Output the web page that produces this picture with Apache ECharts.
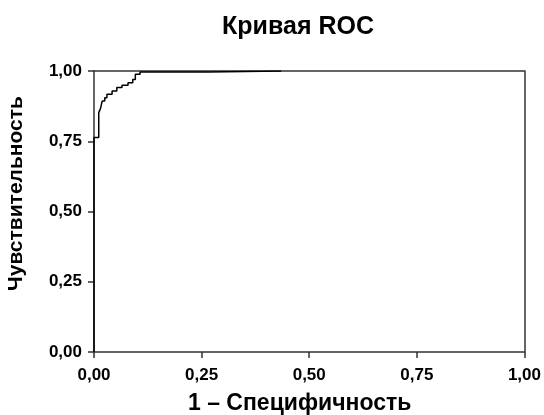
<!DOCTYPE html>
<html>
<head>
<meta charset="utf-8">
<script src="https://cdn.jsdelivr.net/npm/echarts@6/dist/echarts.min.js"></script>
<style>
  html, body { margin: 0; padding: 0; background: #fff; }
  #chart { width: 544px; height: 415px; }
</style>
</head>
<body>
<div id="chart"></div>
<script>
// ROC points (1 - specificity, sensitivity)
const fpr = [0, 0, 0.011, 0.015, 0.019, 0.025, 0.030, 0.042, 0.053, 0.065, 0.079, 0.090, 0.096, 0.107, 0.265, 0.435];
const tpr = [0, 0.763, 0.852, 0.866, 0.893, 0.905, 0.917, 0.929, 0.941, 0.949, 0.958, 0.970, 0.988, 0.996, 1, 1];

const chart = echarts.init(document.getElementById('chart'));
const font = 'Liberation Sans, Arial, sans-serif';
const frame = { lineStyle: { color: '#333', width: 1.5 } };
const fmt = v => v.toFixed(2).replace('.', ',');

// top/right axes only close the frame
const hiddenAxis = pos => ({
  type: 'value', position: pos, min: 0, max: 1, interval: 0.25,
  axisLine: { show: true, onZero: false, ...frame },
  axisTick: { show: false }, axisLabel: { show: false }, splitLine: { show: false }
});

chart.setOption({
  animation: false,
  title: {
    text: 'Кривая ROC',
    left: 293, top: 10, textAlign: 'center',
    textStyle: { fontFamily: font, fontWeight: 'bold', fontSize: 25, color: '#000' }
  },
  grid: { left: 94, right: 19, top: 71, bottom: 63 },
  xAxis: [
    {
      type: 'value', min: 0, max: 1, interval: 0.25,
      axisLine: { show: true, onZero: false, ...frame },
      axisTick: { show: true, length: 6, lineStyle: { color: '#333', width: 1.5 } },
      axisLabel: { margin: 15, color: '#000', fontFamily: font, fontWeight: 'bold', fontSize: 17, formatter: fmt },
      splitLine: { show: false }
    },
    hiddenAxis('top')
  ],
  yAxis: [
    {
      type: 'value', min: 0, max: 1, interval: 0.25,
      axisLine: { show: true, onZero: false, ...frame },
      axisTick: { show: true, length: 6, lineStyle: { color: '#333', width: 1.5 } },
      axisLabel: { margin: 12, color: '#000', fontFamily: font, fontWeight: 'bold', fontSize: 17, formatter: fmt },
      splitLine: { show: false }
    },
    hiddenAxis('right')
  ],
  graphic: [
    {
      type: 'text', left: 188, top: 392,
      style: { text: '1 – Специфичность', font: 'bold 23px ' + font, fill: '#000' }
    },
    {
      type: 'text', x: 6, y: 291, rotation: Math.PI / 2,
      style: { text: 'Чувствительность', font: 'bold 21px ' + font, fill: '#000' }
    }
  ],
  series: [
    {
      type: 'line',
      data: fpr.map((x, i) => [x, tpr[i]]),
      step: 'end',
      symbol: 'none',
      lineStyle: { color: '#000', width: 1.5 },
      z: 5
    }
  ]
});
</script>
</body>
</html>
